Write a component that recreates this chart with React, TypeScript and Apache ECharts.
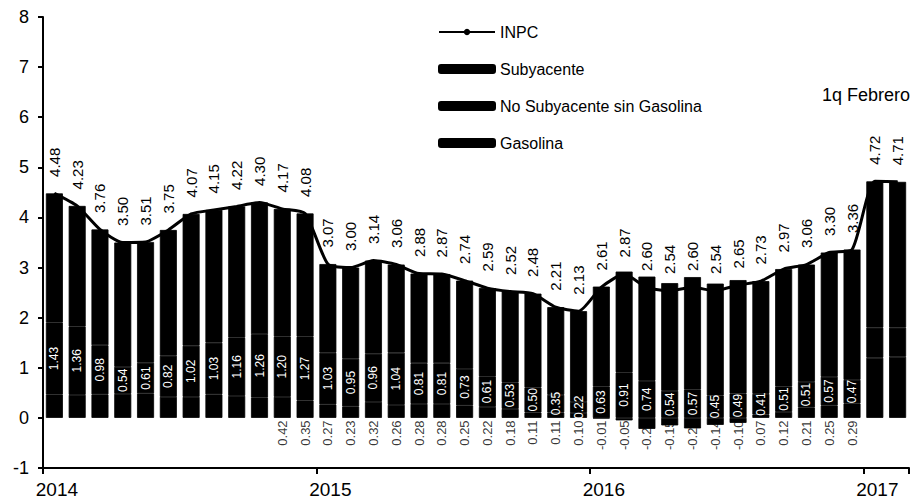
import React, { useEffect, useRef } from 'react';
import * as echarts from 'echarts';

const categories = [
  'Ene 2014', 'Feb 2014', 'Mar 2014', 'Abr 2014', 'May 2014', 'Jun 2014', 'Jul 2014', 'Ago 2014', 'Sep 2014', 'Oct 2014', 'Nov 2014', 'Dic 2014',
  'Ene 2015', 'Feb 2015', 'Mar 2015', 'Abr 2015', 'May 2015', 'Jun 2015', 'Jul 2015', 'Ago 2015', 'Sep 2015', 'Oct 2015', 'Nov 2015', 'Dic 2015',
  'Ene 2016', 'Feb 2016', 'Mar 2016', 'Abr 2016', 'May 2016', 'Jun 2016', 'Jul 2016', 'Ago 2016', 'Sep 2016', 'Oct 2016', 'Nov 2016', 'Dic 2016',
  'Ene 2017', '1q Feb 2017',
];

const yearLabels = ['2014', '2015', '2016', '2017'];

const inpc = [
  4.48, 4.23, 3.76, 3.50, 3.51, 3.75, 4.07, 4.15, 4.22, 4.30, 4.17, 4.08,
  3.07, 3.00, 3.14, 3.06, 2.88, 2.87, 2.74, 2.59, 2.52, 2.48, 2.21, 2.13,
  2.61, 2.87, 2.60, 2.54, 2.60, 2.54, 2.65, 2.73, 2.97, 3.06, 3.30, 3.36,
  4.72, 4.71,
];

const noSubyacenteSinGasolina = [
  1.43, 1.36, 0.98, 0.54, 0.61, 0.82, 1.02, 1.03, 1.16, 1.26, 1.20, 1.27,
  1.03, 0.95, 0.96, 1.04, 0.81, 0.81, 0.73, 0.61, 0.53, 0.50, 0.35, 0.22,
  0.63, 0.91, 0.74, 0.54, 0.57, 0.45, 0.49, 0.41, 0.51, 0.51, 0.57, 0.47,
  0.60, 0.58,
];

const gasolina = [
  0.47, 0.46, 0.47, 0.48, 0.49, 0.42, 0.42, 0.47, 0.44, 0.41, 0.42, 0.35,
  0.27, 0.23, 0.32, 0.26, 0.28, 0.28, 0.25, 0.22, 0.18, 0.11, 0.11, 0.10,
  -0.01, -0.05, -0.22, -0.15, -0.21, -0.14, -0.10, 0.07, 0.12, 0.21, 0.25, 0.29,
  1.20, 1.22,
];

const subyacente = inpc.map((v, i) => +(v - noSubyacenteSinGasolina[i] - gasolina[i]).toFixed(2));

// which months carry printed labels in the reference
const noSubLabelLast = 35;
const gasLabelFirst = 10;
const gasLabelLast = 35;

const FONT = '"Liberation Sans", Arial, Helvetica, sans-serif';

export default function App() {
  const ref = useRef<HTMLDivElement>(null);

  useEffect(() => {
    const chart = echarts.init(ref.current as HTMLDivElement, null, { renderer: 'svg' });
    const gasLabelData: number[][] = [];
    for (let i = gasLabelFirst; i <= gasLabelLast; i++) gasLabelData.push([i, 0]);

    const barStyle = { color: '#000', borderColor: '#000', borderWidth: 0.8 };

    chart.setOption({
      animation: false,
      backgroundColor: '#fff',
      textStyle: { fontFamily: FONT },
      grid: { left: 43, right: 3, top: 17, bottom: 32, containLabel: false },
      legend: {
        data: ['INPC', 'Subyacente', 'No Subyacente sin Gasolina', 'Gasolina'],
        orient: 'vertical',
        left: 433,
        top: 19,
        itemWidth: 56,
        itemHeight: 8,
        itemGap: 21,
        selectedMode: false,
        textStyle: { fontSize: 16, color: '#000', fontFamily: FONT },
      },
      graphic: [
        {
          type: 'text',
          x: 910,
          y: 86,
          style: { text: '1q Febrero', fontSize: 18, fill: '#000', fontFamily: FONT, textAlign: 'right' },
        },
      ],
      xAxis: {
        type: 'category',
        data: categories,
        boundaryGap: true,
        axisLine: { onZero: false, lineStyle: { color: '#000', width: 2 } },
        axisTick: {
          show: true,
          interval: (i: number) => i % 12 === 0,
          length: 6,
          lineStyle: { color: '#000', width: 2 },
        },
        axisLabel: {
          interval: (i: number) => i % 12 === 0,
          formatter: (_v: string, i: number) => yearLabels[Math.floor(i / 12)] || '',
          fontSize: 19,
          color: '#000',
          margin: 12,
          padding: [0, 0, 0, 5],
          fontFamily: FONT,
        },
        splitLine: { show: false },
      },
      yAxis: {
        type: 'value',
        min: -1,
        max: 8,
        interval: 1,
        splitLine: { show: false },
        axisLine: { show: true, lineStyle: { color: '#000', width: 2 } },
        axisTick: { show: true, length: 5, lineStyle: { color: '#000', width: 2 } },
        axisLabel: { fontSize: 18, color: '#000', margin: 14, fontFamily: FONT },
      },
      series: [
        {
          name: 'Gasolina',
          type: 'bar',
          stack: 'total',
          barWidth: 17,
          data: gasolina,
          itemStyle: barStyle,
        },
        {
          name: 'No Subyacente sin Gasolina',
          type: 'bar',
          stack: 'total',
          barWidth: 17,
          data: noSubyacenteSinGasolina,
          itemStyle: barStyle,
          label: {
            show: true,
            position: 'inside',
            rotate: 90,
            color: '#fff',
            fontSize: 12,
            fontFamily: FONT,
            formatter: (p: any) => (p.dataIndex <= noSubLabelLast ? Number(p.value).toFixed(2) : ''),
          },
        },
        {
          name: 'Subyacente',
          type: 'bar',
          stack: 'total',
          barWidth: 17,
          data: subyacente,
          itemStyle: barStyle,
        },
        {
          name: 'INPC',
          type: 'line',
          data: inpc,
          smooth: 0.2,
          symbol: 'circle',
          symbolSize: 1,
          itemStyle: { color: '#000' },
          lineStyle: { color: '#000', width: 3 },
          z: 5,
          label: {
            show: true,
            position: 'top',
            distance: 16,
            rotate: 90,
            align: 'left',
            verticalAlign: 'middle',
            color: '#000',
            fontSize: 15,
            fontFamily: FONT,
            formatter: (p: any) => Number(p.value).toFixed(2),
          },
        },
        {
          name: 'gasLabels',
          type: 'scatter',
          data: gasLabelData,
          symbol: 'circle',
          symbolSize: 1,
          silent: true,
          itemStyle: { color: 'rgba(0,0,0,0)' },
          z: 6,
          label: {
            show: true,
            position: 'bottom',
            distance: 2,
            rotate: 90,
            align: 'right',
            verticalAlign: 'middle',
            color: '#000',
            fontSize: 13,
            fontFamily: FONT,
            formatter: (p: any) => gasolina[p.value[0]].toFixed(2),
          },
        },
      ],
    });

    return () => chart.dispose();
  }, []);

  return <div ref={ref} style={{ position: 'fixed', left: 0, top: 0, width: 912, height: 500 }} />;
}
